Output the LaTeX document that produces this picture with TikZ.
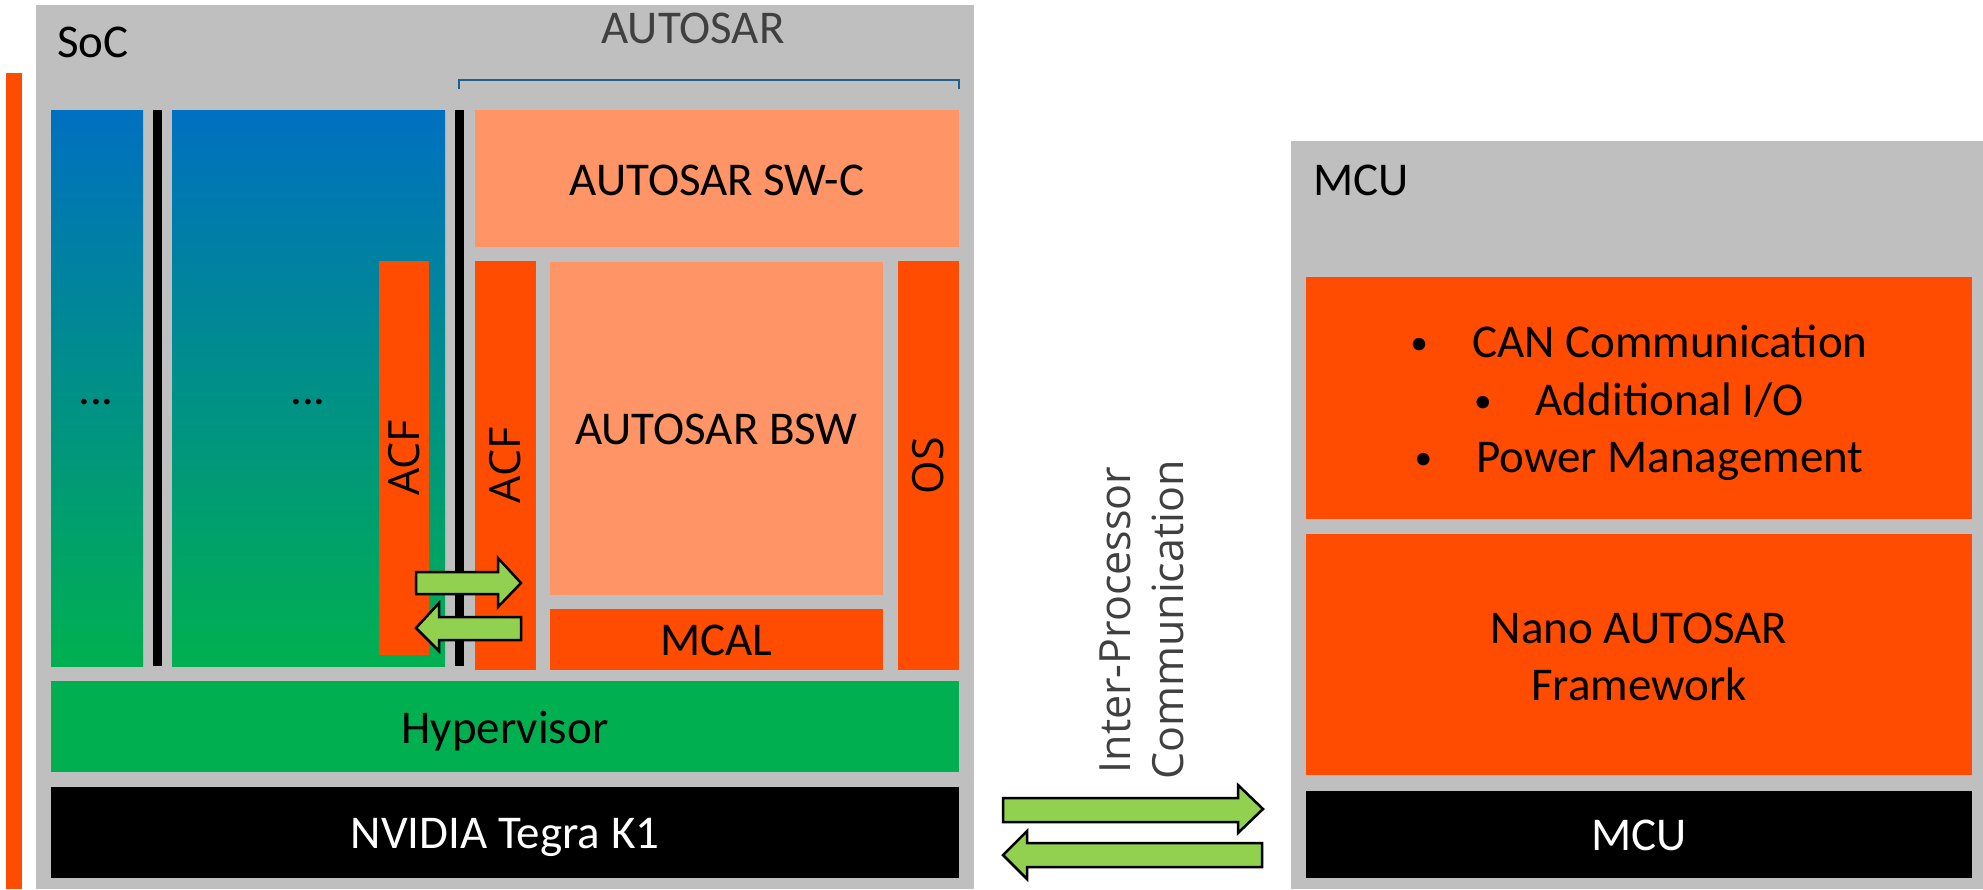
\documentclass[tikz,border=0pt]{standalone}
\usepackage{fontspec}
\usepackage{graphicx}
\setmainfont{Carlito}
\newfontfamily\osans{Open Sans}
\definecolor{frame}{HTML}{BFBFBF}
\definecolor{orng}{HTML}{FF4C00}
\definecolor{salmon}{HTML}{FF9466}
\definecolor{hypg}{HTML}{00B050}
\definecolor{topblue}{HTML}{0070C0}
\definecolor{arrg}{HTML}{92D050}
\definecolor{brk}{HTML}{1F5F91}
\definecolor{dgray}{HTML}{404040}
\newcommand\mainf{\fontsize{47}{57}\selectfont}
\newcommand\rotf{\osans\fontsize{43}{51}\selectfont}
\newcommand\ipcf{\osans\fontsize{43}{51}\selectfont}
\newcommand\mybul{\raisebox{3pt}{\scalebox{0.75}{\textbullet}}\hspace{44pt}}
\newcommand\boxat[6]{\node[blk,#6,minimum width={(#4)-(#2)},minimum height={(#5)-(#3)}] (#1) at ({((#2)+(#4))/2},{((#3)+(#5))/2}) {};}
\begin{document}
\begin{tikzpicture}[x=1pt,y=-1pt,
  blk/.style={inner sep=0pt,outer sep=0pt,draw=none},
  txt/.style={inner sep=0pt,outer sep=0pt,font=\mainf,anchor=base},
  rtxt/.style={inner sep=0pt,outer sep=0pt,font=\rotf,rotate=90},
  ipc/.style={inner sep=0pt,outer sep=0pt,font=\ipcf,rotate=90,anchor=base,text=dgray},
  garrow/.style={fill=arrg,draw=black,line width=2.5pt,line join=miter},
  grad/.style={top color=topblue,bottom color=hypg}]
\useasboundingbox (0,0) rectangle (1983,889);
% frames
\boxat{orbar}{6}{73}{22}{889}{fill=orng}
\boxat{soc}{36}{5}{974}{889}{fill=frame}
\boxat{mcu}{1291}{141}{1983}{889}{fill=frame}
% SoC content
\boxat{blueA}{51}{110}{143}{666}{grad}
\boxat{barA}{153}{110}{162}{666}{fill=black}
\boxat{blueB}{172}{110}{445}{666}{grad}
\boxat{barB}{455}{110}{464}{666}{fill=black}
\boxat{acfL}{379}{261}{429}{655}{fill=orng}
\boxat{swc}{475}{110}{959}{247}{fill=salmon}
\boxat{acfR}{475}{261}{536}{670}{fill=orng}
\boxat{bsw}{550}{262}{883}{595}{fill=salmon}
\boxat{mcal}{550}{609}{883}{670}{fill=orng}
\boxat{os}{898}{261}{959}{670}{fill=orng}
\boxat{hyp}{51}{681}{959}{772}{fill=hypg}
\boxat{tegra}{51}{787}{959}{878}{fill=black}
% MCU content
\boxat{feat}{1306}{277}{1972}{519}{fill=orng}
\boxat{nano}{1306}{534}{1972}{775}{fill=orng}
\boxat{mcuhw}{1306}{791}{1972}{878}{fill=black}
% bracket
\coordinate (bl) at (459,89);
\coordinate (br) at (959,89);
\draw[brk,line width=2.5pt] (bl) -- (bl |- 0,80) -- (br |- 0,80) -- (br);
% labels
\node[txt,anchor=base west] (tsoc) at (57,57) {SoC};
\node[txt,text=dgray] (tautosar) at (693,43) {AUTOSAR};
\node[txt] (dotsA) at (96,404) {...};
\node[txt] (dotsB) at (308,404) {...};
\node[txt] (tswc) at (717,195) {AUTOSAR SW-C};
\node[txt] (tbsw) at (716.5,444) {AUTOSAR BSW};
\node[txt] (tmcal) at (716.5,655) {MCAL};
\node[rtxt] (tacfL) at (acfL.center) {ACF};
\node[rtxt] (tacfR) at (acfR.center) {ACF};
\node[rtxt] (tos) at (os.center) {OS};
\node[txt] (thyp) at (505,743) {Hypervisor};
\node[txt,text=white] (ttegra) at (505,848) {NVIDIA Tegra K1};
\node[txt,anchor=base west] (tmcu) at (1313,195) {MCU};
\node[txt] (fA) at (1639,357) {\mybul CAN Communication};
\node[txt] (fB) at (1639,415) {\mybul Additional I/O};
\node[txt] (fC) at (1639,472) {\mybul Power Management};
\node[txt] (nA) at (1639,643) {Nano AUTOSAR};
\node[txt] (nB) at (1639,700) {Framework};
\node[txt,text=white] (tmcuhw) at (1639,850) {MCU};
\node[ipc] (ipcA) at (1130,620) {Inter-Processor};
\node[ipc] (ipcB) at (1183,620) {Communication};
% small arrows
\draw[garrow] (416,572) -- (498,572) -- (498,558) -- (521,583) -- (498,607) -- (498,594) -- (416,594) -- cycle;
\draw[garrow] (521,617) -- (439,617) -- (439,603) -- (416,628) -- (439,651) -- (439,640) -- (521,640) -- cycle;
% big arrows
\draw[garrow] (1003,798) -- (1238,798) -- (1238,785) -- (1263,809) -- (1238,833) -- (1238,822) -- (1003,822) -- cycle;
\draw[garrow] (1262,843) -- (1027,843) -- (1027,831) -- (1003,855) -- (1027,879) -- (1027,867) -- (1262,867) -- cycle;
\end{tikzpicture}
\end{document}
